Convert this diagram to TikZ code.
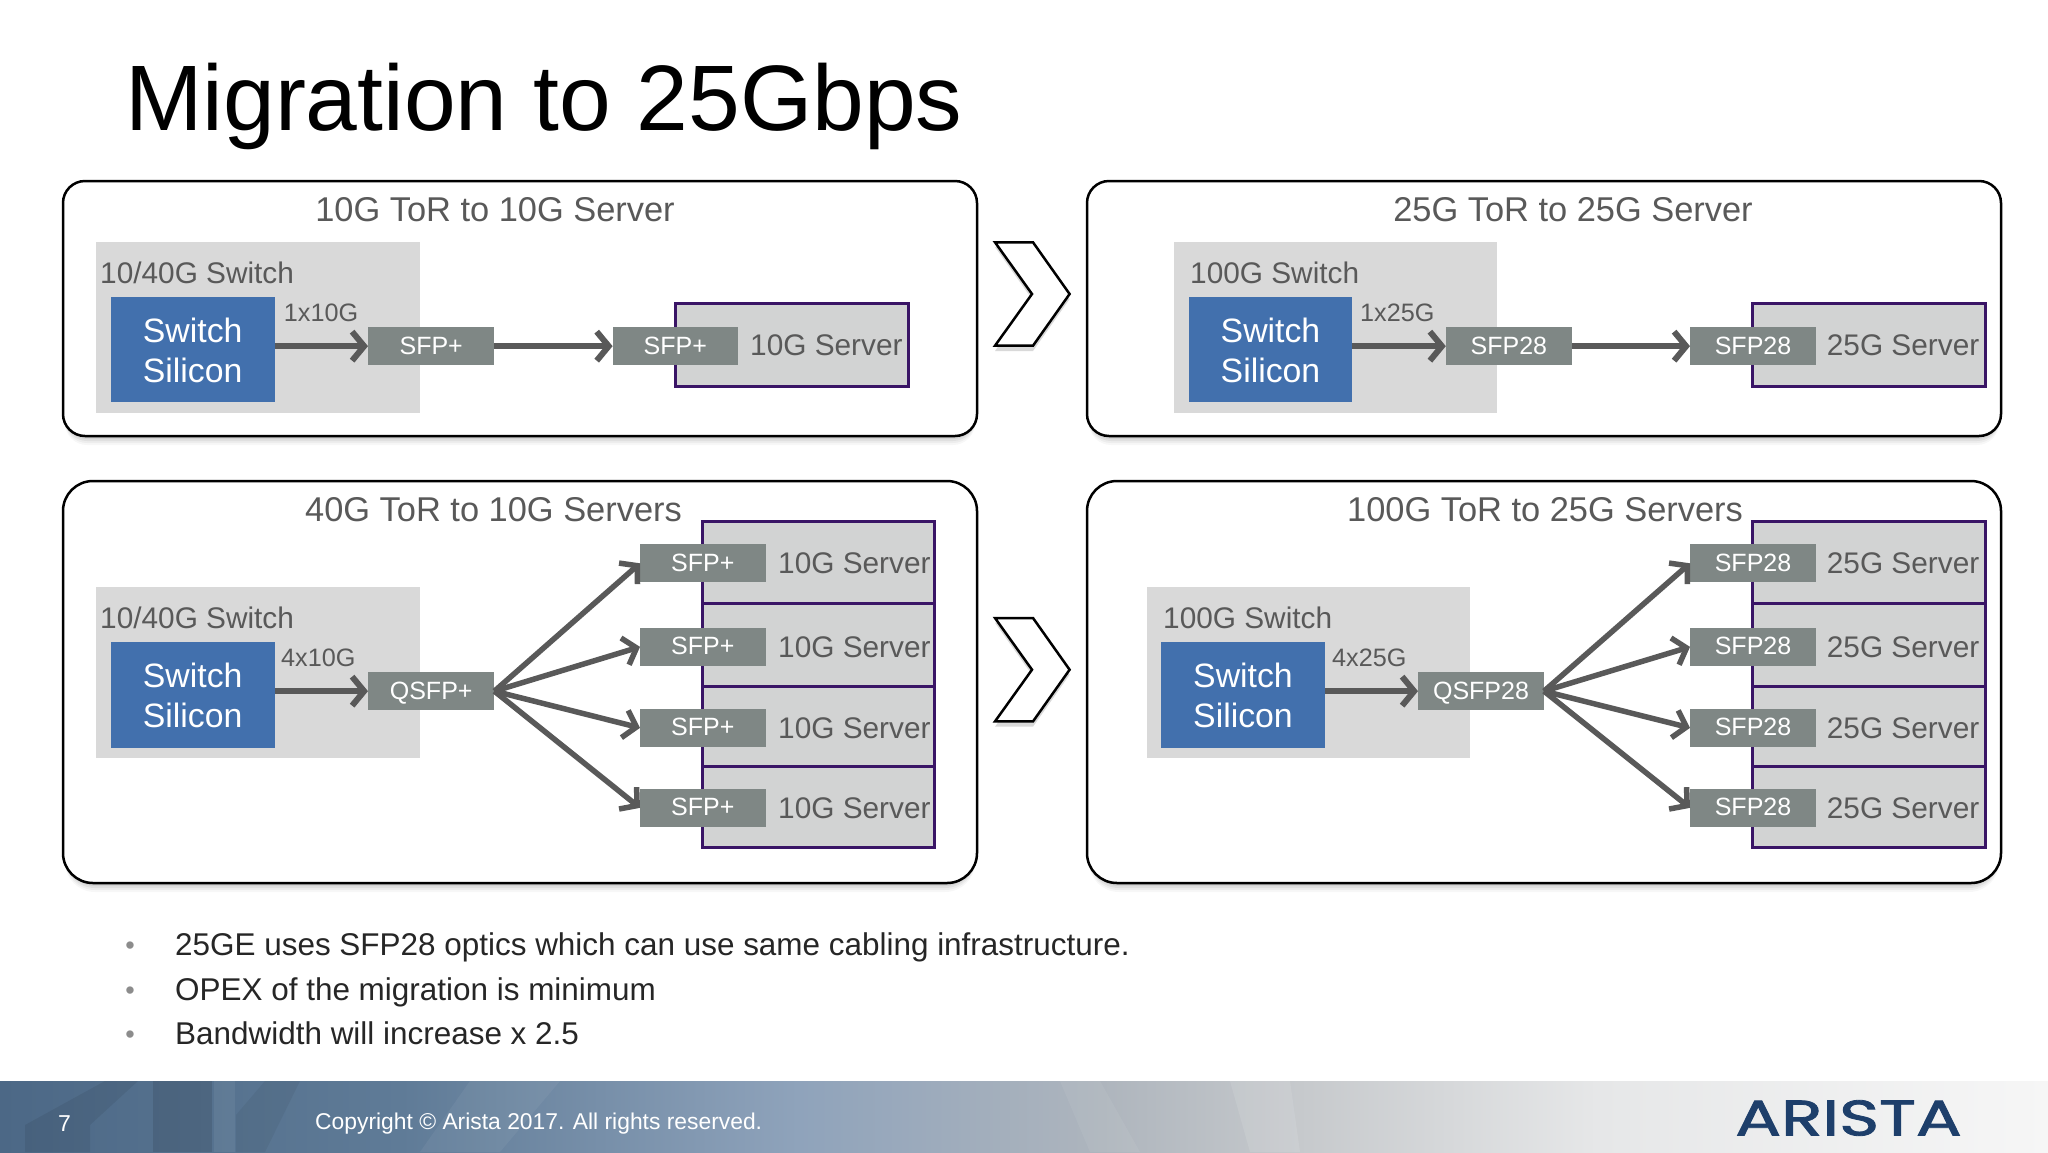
\documentclass[tikz,border=0pt]{standalone}
\usepackage{fontspec}
\setmainfont{Liberation Sans}
\newfontfamily\logofont[FakeBold=1.6]{Poppins}
\usetikzlibrary{arrows.meta,calc}
\definecolor{txtgrey}{HTML}{595959}
\definecolor{swgrey}{HTML}{D9D9D9}
\definecolor{srvgrey}{HTML}{D2D3D3}
\definecolor{sfpgrey}{HTML}{7F8785}
\definecolor{chipblue}{HTML}{4270AD}
\definecolor{srvline}{HTML}{3A1566}
\definecolor{arrgrey}{HTML}{595959}
\definecolor{logoblue}{HTML}{1E3F6B}
\definecolor{fa}{HTML}{4C6886}
\definecolor{fb}{HTML}{5F7B97}
\definecolor{fc}{HTML}{8FA3BB}
\definecolor{fd}{HTML}{AEB5BD}
\definecolor{fe}{HTML}{C6C9CC}
\definecolor{ff}{HTML}{E6E7E8}
\definecolor{fg}{HTML}{F6F6F6}
\pgfdeclarehorizontalshading{footershade}{100bp}{
 color(0bp)=(fa);color(25bp)=(fa);color(34.8bp)=(fb);color(44.5bp)=(fc);color(51.9bp)=(fd);color(56.7bp)=(fe);color(64bp)=(ff);color(75bp)=(fg);color(100bp)=(fg)}
\newcommand{\fs}[1]{\fontsize{#1}{#1}\selectfont}
\tikzset{
 panelbox/.style={draw=black,line width=2.5pt,fill=white,rounded corners=#1,inner sep=0pt,outer sep=0pt},
 switchbox/.style={fill=swgrey,inner sep=0pt,outer sep=0pt},
 chipbox/.style={fill=chipblue,inner sep=0pt,outer sep=0pt,text=white,align=center,font=\fs{33.8}},
 serverbox/.style={draw=srvline,fill=srvgrey,line width=3pt,inner sep=0pt,outer sep=0pt},
 sfpbox/.style={fill=sfpgrey,inner sep=0pt,outer sep=0pt,text=white,font=\fs{25},text height=18pt,text depth=2pt},
 paneltitle/.style={text=txtgrey,font=\fs{34.4},inner sep=0pt},
 swlabel/.style={text=txtgrey,font=\fs{29.8},inner sep=0pt,anchor=west},
 srvlabel/.style={text=txtgrey,font=\fs{29.8},inner sep=0pt,anchor=west},
 linklabel/.style={text=txtgrey,font=\fs{25.2},inner sep=0pt,anchor=west},
 bullettext/.style={text=black!85,font=\fs{31.45},inner sep=0pt,anchor=base west},
 bulletdot/.style={text=black!45,font=\fs{27},inner sep=0pt},
 link/.style={draw=arrgrey,line width=6pt,-{Straight Barb[length=12pt,width=29pt,line width=6pt]}},
 fan/.style={draw=arrgrey,line width=5.5pt,-{Straight Barb[length=12pt,width=28pt,line width=5.5pt]}},
 chevron/.style={draw=black,line width=2.5pt,fill=white,line join=miter},
 streak/.style={fill=#1,draw=none},
}
% name, style, x1, y1, x2, y2, text
\newcommand{\bx}[7]{%
 \pgfmathsetmacro{\bw}{#5-#3}\pgfmathsetmacro{\bh}{#6-#4}%
 \node[#2,anchor=north west,minimum width=\bw pt,minimum height=\bh pt] (#1) at (#3,#4) {#7};}
\newcommand{\softpanel}[5]{%
 \foreach \g/\o in {1/0.07,3/0.06,5/0.05,7/0.04,9/0.03}{%
  \fill[black,opacity=\o,rounded corners=#5] (#1+2,#2+\g) rectangle (#3-2,#4+\g);}}
\begin{document}
\begin{tikzpicture}[x=1pt,y=-1pt]
\useasboundingbox (0,0) rectangle (2048,1152);
\fill[white] (0,0) rectangle (2048,1152);
% footer
\shade[shading=footershade] (0,1081) rectangle (2048,1152);
\begin{scope}
\clip (0,1081) rectangle (2048,1152);
\fill[streak=black,opacity=0.07] (25,1152) -- (25,1125) -- (105,1081) -- (138,1081) -- (90,1125) -- (90,1152) -- cycle;
\fill[streak=black,opacity=0.10] (153,1081) rectangle (212,1152);
\fill[streak=white,opacity=0.06] (214,1081) rectangle (235,1152);
\fill[streak=black,opacity=0.05] (236,1115) -- (265,1081) -- (300,1081) -- (265,1152) -- (236,1152) -- cycle;
\fill[streak=white,opacity=0.05] (420,1152) -- (470,1081) -- (560,1081) -- (500,1152) -- cycle;
\fill[streak=white,opacity=0.06] (1060,1081) -- (1100,1081) -- (1140,1152) -- (1090,1152) -- cycle;
\fill[streak=white,opacity=0.10] (1230,1081) -- (1290,1081) -- (1300,1152) -- (1250,1152) -- cycle;
\end{scope}
\node[text=white,font=\fs{23},inner sep=0pt,anchor=west] (pagenum) at (58,1124) {7};
\node[text=white,font=\fs{22.85},inner sep=0pt,anchor=west] (copyright) at (315,1124) {Copyright © Arista 2017. All rights reserved.};
\node[text=logoblue,font=\fs{50}\logofont,inner sep=0pt,xscale=1.36] (logo) at (1848.5,1118) {ARISTA};
% title
\node[text=black,font=\fs{93},inner sep=0pt,anchor=base west] (title) at (125,130) {Migration to 25Gbps};
% panels
\softpanel{63}{181}{977}{436}{22}
\softpanel{1087}{181}{2001}{436}{22}
\softpanel{63}{481}{977}{883}{30}
\softpanel{1087}{481}{2001}{883}{30}
\bx{panelA}{panelbox=22pt}{63}{181}{977}{436}{}
\bx{panelB}{panelbox=22pt}{1087}{181}{2001}{436}{}
\bx{panelC}{panelbox=30pt}{63}{481}{977}{883}{}
\bx{panelD}{panelbox=30pt}{1087}{481}{2001}{883}{}
\node[paneltitle] (titleA) at (495,209.5) {10G ToR to 10G Server};
\node[paneltitle] (titleB) at (1573,209.5) {25G ToR to 25G Server};
\node[paneltitle] (titleC) at (493.5,510) {40G ToR to 10G Servers};
\node[paneltitle] (titleD) at (1545,510) {100G ToR to 25G Servers};
% chevrons
\foreach \yo in {0,375.7}{
 \begin{scope}[yshift=-\yo pt]
 \fill[black,opacity=0.15] (995,247) -- (1033,247) -- (1069.6,299) -- (1033,351) -- (995,351) -- (1032,299) -- cycle;
 \draw[chevron] (995,242.3) -- (1033,242.3) -- (1069.6,294) -- (1033,345.7) -- (995,345.7) -- (1032,294) -- cycle;
 \end{scope}}
% panel A
\bx{swA}{switchbox}{96.3}{241.7}{419.7}{413}{}
\bx{chipA}{chipbox}{111}{296.7}{274.5}{402.3}{}
\node[chipbox,fill=none] (chipAt) at (192.7,350.5) {Switch\\[6pt]Silicon};
\node[swlabel] (swlA) at (100,273) {10/40G Switch};
\node[linklabel] (lkA) at (283.7,313) {1x10G};
\bx{srvA}{serverbox}{675.6}{303.7}{908}{386.7}{}
\bx{sfpA1}{sfpbox}{368}{327.3}{494.4}{365}{SFP+}
\bx{sfpA2}{sfpbox}{612.6}{327.3}{738}{365}{SFP+}
\node[srvlabel] (srvlA) at (750,345.6) {10G Server};
\draw[link] (chipA.east |- sfpA1.west) -- (sfpA1.west);
\draw[link] (sfpA1.east) -- (sfpA2.west);
% panel B
\bx{swB}{switchbox}{1173.7}{241.7}{1497}{413}{}
\bx{chipB}{chipbox}{1189}{296.7}{1352}{402.3}{}
\node[chipbox,fill=none] (chipBt) at (1270.5,350.5) {Switch\\[6pt]Silicon};
\node[swlabel] (swlB) at (1190,273) {100G Switch};
\node[linklabel] (lkB) at (1360,313) {1x25G};
\bx{srvB}{serverbox}{1752.5}{303.7}{1985.7}{386.7}{}
\bx{sfpB1}{sfpbox}{1445.8}{327.3}{1572}{365}{SFP28}
\bx{sfpB2}{sfpbox}{1690}{327.3}{1816}{365}{SFP28}
\node[srvlabel] (srvlB) at (1826.7,345.6) {25G Server};
\draw[link] (chipB.east |- sfpB1.west) -- (sfpB1.west);
\draw[link] (sfpB1.east) -- (sfpB2.west);
% panel C
\bx{swC}{switchbox}{96.3}{586.7}{419.7}{758.3}{}
\bx{chipC}{chipbox}{111}{642}{274.5}{747.7}{}
\node[chipbox,fill=none] (chipCt) at (192.7,695.5) {Switch\\[6pt]Silicon};
\node[swlabel] (swlC) at (100,618) {10/40G Switch};
\node[linklabel] (lkC) at (281,657.7) {4x10G};
\bx{srvC1}{serverbox}{702.6}{521}{934}{603.3}{}
\bx{srvC2}{serverbox}{702.6}{603.3}{934}{686}{}
\bx{srvC3}{serverbox}{702.6}{686}{934}{766.7}{}
\bx{srvC4}{serverbox}{702.6}{766.7}{934}{847.7}{}
\bx{qsC}{sfpbox}{368}{672.3}{494.4}{710}{QSFP+}
\bx{sfpC1}{sfpbox}{640}{544.3}{765.7}{582.3}{SFP+}
\bx{sfpC2}{sfpbox}{640}{628}{765.7}{665.7}{SFP+}
\bx{sfpC3}{sfpbox}{640}{709}{765.7}{746.7}{SFP+}
\bx{sfpC4}{sfpbox}{640}{789}{765.7}{826.7}{SFP+}
\node[srvlabel] (srvlC1) at (778,563.3) {10G Server};
\node[srvlabel] (srvlC2) at (778,646.8) {10G Server};
\node[srvlabel] (srvlC3) at (778,727.8) {10G Server};
\node[srvlabel] (srvlC4) at (778,807.8) {10G Server};
\draw[link] (chipC.east |- qsC.west) -- (qsC.west);
\foreach \n in {1,2,3,4}{\draw[fan] (qsC.east) -- (sfpC\n.west);}
% panel D
\bx{swD}{switchbox}{1146.7}{586.7}{1470}{758.3}{}
\bx{chipD}{chipbox}{1161}{642}{1325}{747.7}{}
\node[chipbox,fill=none] (chipDt) at (1243,695.5) {Switch\\[6pt]Silicon};
\node[swlabel] (swlD) at (1163,618) {100G Switch};
\node[linklabel] (lkD) at (1332,657.7) {4x25G};
\bx{srvD1}{serverbox}{1752.5}{521}{1985.7}{603.3}{}
\bx{srvD2}{serverbox}{1752.5}{603.3}{1985.7}{686}{}
\bx{srvD3}{serverbox}{1752.5}{686}{1985.7}{766.7}{}
\bx{srvD4}{serverbox}{1752.5}{766.7}{1985.7}{847.7}{}
\bx{qsD}{sfpbox}{1418}{672.3}{1544}{710}{QSFP28}
\bx{sfpD1}{sfpbox}{1690}{544.3}{1816}{582.3}{SFP28}
\bx{sfpD2}{sfpbox}{1690}{628}{1816}{665.7}{SFP28}
\bx{sfpD3}{sfpbox}{1690}{709}{1816}{746.7}{SFP28}
\bx{sfpD4}{sfpbox}{1690}{789}{1816}{826.7}{SFP28}
\node[srvlabel] (srvlD1) at (1826.7,563.3) {25G Server};
\node[srvlabel] (srvlD2) at (1826.7,646.8) {25G Server};
\node[srvlabel] (srvlD3) at (1826.7,727.8) {25G Server};
\node[srvlabel] (srvlD4) at (1826.7,807.8) {25G Server};
\draw[link] (chipD.east |- qsD.west) -- (qsD.west);
\foreach \n in {1,2,3,4}{\draw[fan] (qsD.east) -- (sfpD\n.west);}
% bullets
\node[bulletdot] (b1) at (130,948) {•};
\node[bulletdot] (b2) at (130,993) {•};
\node[bulletdot] (b3) at (130,1037) {•};
\node[bullettext] (t1) at (175,955.5) {25GE uses SFP28 optics which can use same cabling infrastructure.};
\node[bullettext] (t2) at (175,1000) {OPEX of the migration is minimum};
\node[bullettext] (t3) at (175,1044.5) {Bandwidth will increase x 2.5};
\end{tikzpicture}
\end{document}
